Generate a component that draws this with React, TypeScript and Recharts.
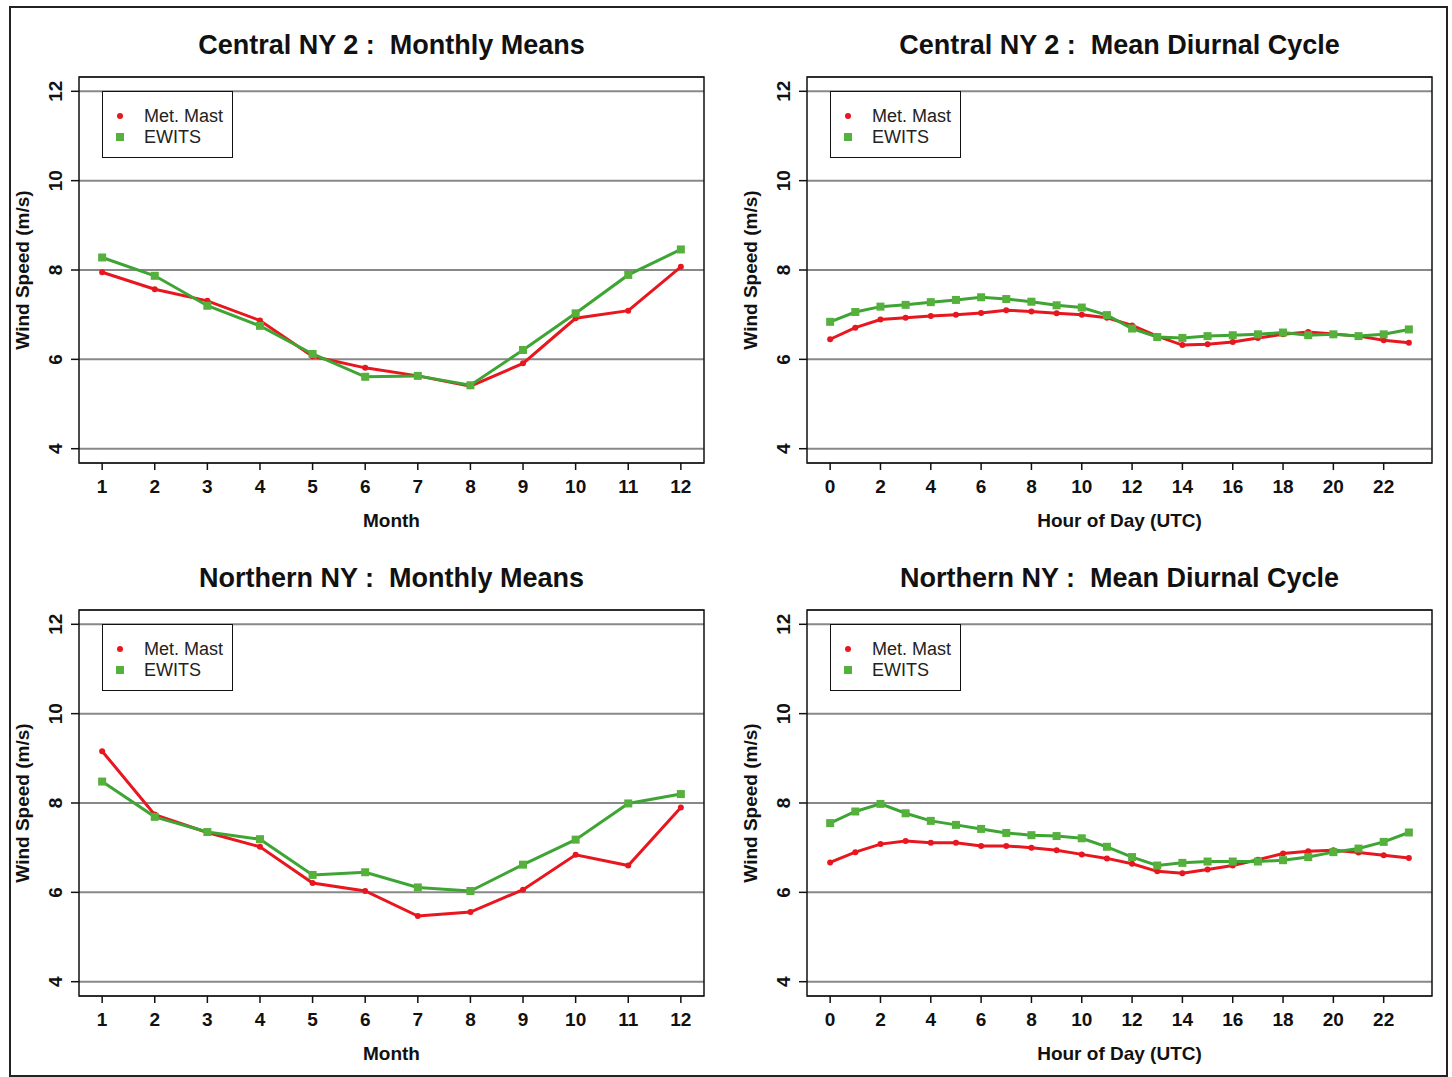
import React from 'react';
import { LineChart, Line, XAxis, YAxis, CartesianGrid, ReferenceArea, Legend } from 'recharts';

const FONT = '"Liberation Sans", Arial, Helvetica, sans-serif';
const RED = '#e8161e';
const GREEN = '#3ea535';
const GREEN_MARK = '#55b03c';

// categories
const months = [1, 2, 3, 4, 5, 6, 7, 8, 9, 10, 11, 12];
const hours = [0, 1, 2, 3, 4, 5, 6, 7, 8, 9, 10, 11, 12, 13, 14, 15, 16, 17, 18, 19, 20, 21, 22, 23];

// tick labels
const yTicks = [4, 6, 8, 10, 12];
const monthTicks = [1, 2, 3, 4, 5, 6, 7, 8, 9, 10, 11, 12];
const hourTicks = [0, 2, 4, 6, 8, 10, 12, 14, 16, 18, 20, 22];

// Central NY 2
const cnyMonthlyMast = [7.95, 7.57, 7.31, 6.87, 6.07, 5.81, 5.63, 5.4, 5.91, 6.92, 7.09, 8.07];
const cnyMonthlyEwits = [8.28, 7.87, 7.2, 6.75, 6.12, 5.61, 5.63, 5.42, 6.21, 7.03, 7.89, 8.46];
const cnyDiurnalMast = [6.45, 6.71, 6.89, 6.93, 6.97, 7.0, 7.04, 7.1, 7.07, 7.03, 7.0, 6.93, 6.76, 6.52, 6.32, 6.34, 6.39, 6.48, 6.56, 6.61, 6.57, 6.52, 6.43, 6.37];
const cnyDiurnalEwits = [6.84, 7.06, 7.18, 7.22, 7.28, 7.33, 7.39, 7.35, 7.29, 7.21, 7.16, 6.99, 6.69, 6.5, 6.48, 6.52, 6.54, 6.56, 6.6, 6.54, 6.56, 6.52, 6.56, 6.67];

// Northern NY
const nnyMonthlyMast = [9.16, 7.74, 7.34, 7.02, 6.21, 6.03, 5.47, 5.56, 6.06, 6.84, 6.6, 7.9];
const nnyMonthlyEwits = [8.48, 7.69, 7.35, 7.19, 6.39, 6.45, 6.11, 6.03, 6.62, 7.18, 7.99, 8.2];
const nnyDiurnalMast = [6.67, 6.9, 7.08, 7.15, 7.11, 7.11, 7.04, 7.04, 7.0, 6.94, 6.85, 6.76, 6.64, 6.47, 6.43, 6.51, 6.6, 6.73, 6.87, 6.92, 6.94, 6.89, 6.83, 6.77];
const nnyDiurnalEwits = [7.55, 7.81, 7.98, 7.77, 7.6, 7.51, 7.42, 7.33, 7.28, 7.26, 7.21, 7.02, 6.79, 6.6, 6.66, 6.69, 6.69, 6.69, 6.72, 6.79, 6.9, 6.98, 7.13, 7.34];

const Y_DOMAIN: [number, number] = [3.68, 12.32];
const MONTH_DOMAIN: [number, number] = [0.56, 12.44];
const HOUR_DOMAIN: [number, number] = [-0.92, 23.92];

const YTick = (props: any) => {
  const { x, y, payload } = props;
  return (
    <text
      x={x}
      y={y}
      transform={`rotate(-90 ${x} ${y})`}
      textAnchor="middle"
      fill="#111"
      fontSize={19}
      fontWeight="bold"
      fontFamily={FONT}
    >
      {payload.value}
    </text>
  );
};

const RedDot = (p: any) => <circle key={`r${p.index}`} cx={p.cx} cy={p.cy} r={3} fill={RED} />;
const GreenSquare = (p: any) => (
  <rect key={`g${p.index}`} x={p.cx - 4} y={p.cy - 4} width={8} height={8} fill={GREEN_MARK} />
);

const LegendBox = (props: any) => {
  // mast (circle) first, as in the original legend
  const items = [...(props.payload || [])].sort((a: any, b: any) => (a.type === 'circle' ? -1 : 0) - (b.type === 'circle' ? -1 : 0));
  return (
    <div
      style={{
        width: 131,
        height: 67,
        boxSizing: 'border-box',
        border: '1.5px solid #111',
        background: '#fff',
        position: 'relative',
        fontFamily: FONT,
        fontSize: 18,
        color: '#222'
      }}
    >
      {items.map((it: any, i: number) => (
        <div key={i} style={{ position: 'absolute', left: 0, top: 13 + i * 21, height: 22, display: 'flex', alignItems: 'center' }}>
          {it.type === 'square' ? (
            <span style={{ display: 'inline-block', width: 8, height: 8, background: GREEN_MARK, marginLeft: 13 }} />
          ) : (
            <span style={{ display: 'inline-block', width: 6, height: 6, borderRadius: 3, background: RED, marginLeft: 14, marginRight: 1 }} />
          )}
          <span style={{ marginLeft: 20 }}>{it.value}</span>
        </div>
      ))}
    </div>
  );
};

interface PanelProps {
  left: number;
  top: number;
  title: string;
  xs: number[];
  mast: number[];
  ewits: number[];
  xTicks: number[];
  xDomain: [number, number];
  xLabel: string;
}

function Panel({ left, top, title, xs, mast, ewits, xTicks, xDomain, xLabel }: PanelProps) {
  const data = xs.map((x, i) => ({ x, mast: mast[i], ewits: ewits[i] }));
  return (
    <div style={{ position: 'absolute', left, top, width: 720, height: 535 }}>
      <div
        style={{
          position: 'absolute',
          left: 0,
          width: 783,
          top: 29,
          lineHeight: '32px',
          textAlign: 'center',
          fontFamily: FONT,
          fontWeight: 'bold',
          fontSize: 27,
          color: '#111',
          whiteSpace: 'pre'
        }}
      >
        {title}
      </div>
      <div
        style={{
          position: 'absolute',
          left: 23 - 110,
          top: 270 - 12,
          width: 220,
          lineHeight: '24px',
          textAlign: 'center',
          transform: 'rotate(-90deg)',
          fontFamily: FONT,
          fontWeight: 'bold',
          fontSize: 19,
          color: '#111'
        }}
      >
        Wind Speed (m/s)
      </div>
      <div style={{ position: 'absolute', left: 0, top: 0 }}>
        <LineChart width={720} height={535} data={data} margin={{ top: 77, right: 16, bottom: 0, left: 0 }}>
          <CartesianGrid vertical={false} stroke="#888" strokeWidth={2} />
          <XAxis
            type="number"
            dataKey="x"
            domain={xDomain}
            ticks={xTicks}
            interval={0}
            allowDataOverflow
            axisLine={false}
            tickLine={{ stroke: '#111', strokeWidth: 1.5 }}
            tickSize={7}
            tickMargin={10}
            height={72}
            tick={{ fill: '#111', fontSize: 19, fontWeight: 'bold', fontFamily: FONT }}
            label={{ value: xLabel, position: 'insideBottom', offset: 8, fill: '#111', fontSize: 19, fontWeight: 'bold', fontFamily: FONT }}
          />
          <YAxis
            type="number"
            domain={Y_DOMAIN}
            ticks={yTicks}
            interval={0}
            allowDataOverflow
            axisLine={false}
            width={79}
            tickSize={8}
            tickMargin={9}
            tickLine={{ stroke: '#111', strokeWidth: 1.5 }}
            tick={<YTick />}
          />
          <ReferenceArea
            x1={xDomain[0]}
            x2={xDomain[1]}
            y1={Y_DOMAIN[0]}
            y2={Y_DOMAIN[1]}
            fill="none"
            stroke="#111"
            strokeWidth={1.5}
          />
          <Legend
            verticalAlign="middle"
            align="center"
            wrapperStyle={{ left: 102, top: 91, width: 131, height: 67 }}
            content={LegendBox}
          />
          <Line
            type="linear"
            dataKey="mast"
            name="Met. Mast"
            legendType="circle"
            stroke={RED}
            strokeWidth={3}
            dot={RedDot}
            activeDot={false}
            isAnimationActive={false}
          />
          <Line
            type="linear"
            dataKey="ewits"
            name="EWITS"
            legendType="square"
            stroke={GREEN}
            strokeWidth={3}
            dot={GreenSquare}
            activeDot={false}
            isAnimationActive={false}
          />
        </LineChart>
      </div>
    </div>
  );
}

export default function App() {
  return (
    <div style={{ position: 'absolute', left: 0, top: 0, width: 1452, height: 1077, background: '#fff', overflow: 'hidden' }}>
      <div
        style={{
          position: 'absolute',
          left: 9,
          top: 6,
          width: 1435,
          height: 1067,
          border: '2px solid #222'
        }}
      />
      <Panel
        left={0}
        top={0}
        title="Central NY 2 :  Monthly Means"
        xs={months}
        mast={cnyMonthlyMast}
        ewits={cnyMonthlyEwits}
        xTicks={monthTicks}
        xDomain={MONTH_DOMAIN}
        xLabel="Month"
      />
      <Panel
        left={728}
        top={0}
        title="Central NY 2 :  Mean Diurnal Cycle"
        xs={hours}
        mast={cnyDiurnalMast}
        ewits={cnyDiurnalEwits}
        xTicks={hourTicks}
        xDomain={HOUR_DOMAIN}
        xLabel="Hour of Day (UTC)"
      />
      <Panel
        left={0}
        top={533}
        title="Northern NY :  Monthly Means"
        xs={months}
        mast={nnyMonthlyMast}
        ewits={nnyMonthlyEwits}
        xTicks={monthTicks}
        xDomain={MONTH_DOMAIN}
        xLabel="Month"
      />
      <Panel
        left={728}
        top={533}
        title="Northern NY :  Mean Diurnal Cycle"
        xs={hours}
        mast={nnyDiurnalMast}
        ewits={nnyDiurnalEwits}
        xTicks={hourTicks}
        xDomain={HOUR_DOMAIN}
        xLabel="Hour of Day (UTC)"
      />
    </div>
  );
}
